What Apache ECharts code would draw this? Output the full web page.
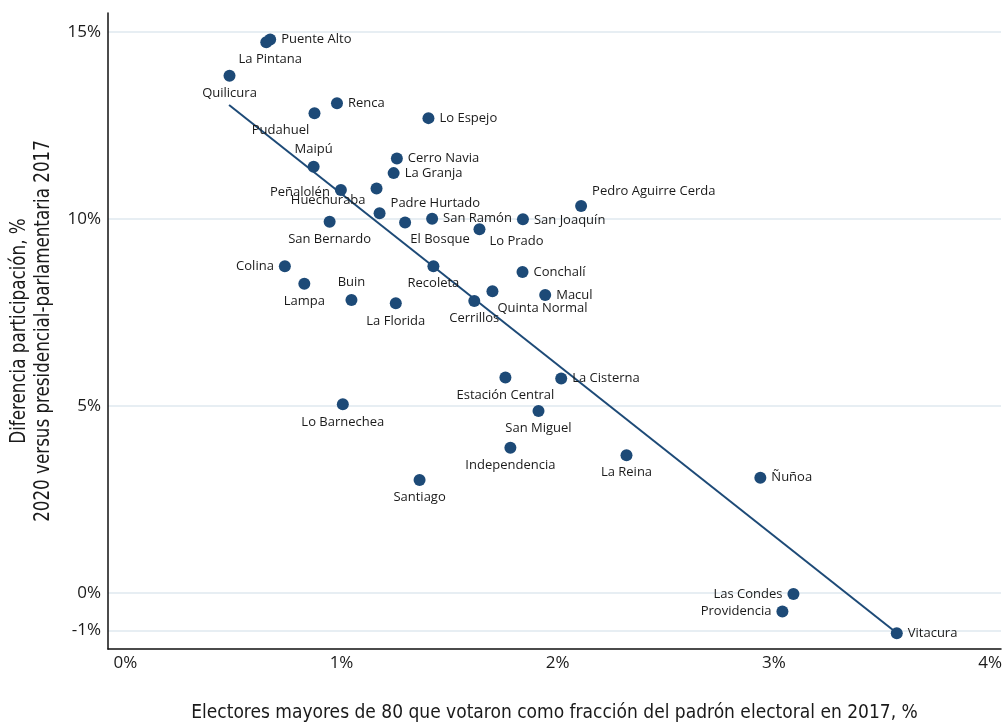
<!DOCTYPE html>
<html>
<head>
<meta charset="utf-8">
<script src="https://cdn.jsdelivr.net/npm/echarts@6/dist/echarts.min.js"></script>
<style>
  html, body { margin: 0; padding: 0; background: #ffffff; }
  #chart { width: 1006px; height: 722px; }
</style>
</head>
<body>
<div id="chart"></div>
<script>
// Comunas de la Región Metropolitana
const comunas = [
  'Puente Alto', 'La Pintana', 'Quilicura', 'Renca', 'Pudahuel', 'Lo Espejo',
  'Maipú', 'Cerro Navia', 'La Granja', 'Peñalolén', 'Huechuraba', 'Padre Hurtado',
  'San Bernardo', 'El Bosque', 'San Ramón', 'Lo Prado', 'San Joaquín', 'Pedro Aguirre Cerda',
  'Conchalí', 'Macul', 'Quinta Normal', 'Cerrillos', 'Recoleta', 'Colina',
  'Lampa', 'Buin', 'La Florida', 'Estación Central', 'La Cisterna', 'Lo Barnechea',
  'San Miguel', 'Independencia', 'Santiago', 'La Reina', 'Ñuñoa', 'Las Condes',
  'Providencia', 'Vitacura'
];

// Electores mayores de 80 que votaron, % del padrón 2017
const electores80 = [
  0.670, 0.652, 0.482, 0.979, 0.875, 1.402,
  0.871, 1.256, 1.241, 0.997, 1.162, 1.176,
  0.945, 1.294, 1.419, 1.638, 1.839, 2.108,
  1.837, 1.942, 1.698, 1.614, 1.425, 0.738,
  0.828, 1.046, 1.251, 1.758, 2.016, 1.006,
  1.911, 1.781, 1.361, 2.318, 2.937, 3.090,
  3.039, 3.568
];

// Diferencia de participación 2020 vs. 2017, puntos %
const difParticipacion = [
  14.79, 14.72, 13.82, 13.09, 12.82, 12.69,
  11.39, 11.61, 11.22, 10.77, 10.81, 10.15,
  9.92, 9.90, 10.00, 9.72, 9.99, 10.34,
  8.58, 7.96, 8.06, 7.80, 8.73, 8.73,
  8.26, 7.83, 7.74, 5.76, 5.73, 5.04,
  4.86, 3.88, 3.02, 3.68, 3.08, -0.03,
  -0.50, -1.08
];

// Recta de tendencia (extremos)
const tendenciaX = [0.48, 3.568];
const tendenciaY = [13.04, -1.07];

// Marcas de los ejes
const xTicks = [0, 1, 2, 3, 4];
const yTicks = [-1, 0, 5, 10, 15];

// Títulos de los ejes
const tituloX = 'Electores mayores de 80 que votaron como fracción del padrón electoral en 2017, %';
const tituloY = 'Diferencia participación, %\n2020 versus presidencial-parlamentaria 2017';

// Ubicación de cada etiqueta respecto a su punto: [posición, dx, dy]
const ubicacion = {
  'Puente Alto': ['right', 0, 0],
  'La Pintana': ['bottom', 4, 0],
  'Quilicura': ['bottom', 0, 0],
  'Renca': ['right', 0, 0],
  'Pudahuel': ['bottom', -34, 0],
  'Lo Espejo': ['right', 0, 0],
  'Maipú': ['top', 0, 0],
  'Cerro Navia': ['right', 0, 0],
  'La Granja': ['right', 0, 0],
  'Peñalolén': ['left', 0, 2],
  'Huechuraba': ['left', 0, 12],
  'Padre Hurtado': ['right', 0, -10],
  'San Bernardo': ['bottom', 0, 0],
  'El Bosque': ['bottom', 35, -1],
  'San Ramón': ['right', 0, 0],
  'Lo Prado': ['bottom', 37, -5],
  'San Joaquín': ['right', 0, 1],
  'Pedro Aguirre Cerda': ['right', 0, -15],
  'Conchalí': ['right', 0, 0],
  'Macul': ['right', 0, 0],
  'Quinta Normal': ['bottom', 50, -1],
  'Cerrillos': ['bottom', 0, 0],
  'Recoleta': ['bottom', 0, 0],
  'Colina': ['left', 0, 0],
  'Lampa': ['bottom', 0, 0],
  'Buin': ['top', 0, 0],
  'La Florida': ['bottom', 0, 0],
  'Estación Central': ['bottom', 0, 0],
  'La Cisterna': ['right', 0, 0],
  'Lo Barnechea': ['bottom', 0, 0],
  'San Miguel': ['bottom', 0, 0],
  'Independencia': ['bottom', 0, 0],
  'Santiago': ['bottom', 0, 0],
  'La Reina': ['bottom', 0, 0],
  'Ñuñoa': ['right', 0, 0],
  'Las Condes': ['left', 0, 0],
  'Providencia': ['left', 0, 0],
  'Vitacura': ['right', 0, 0]
};

const AZUL = '#1d4a77';
const TEXTO = '#1a1a1a';
const FUENTE_TITULO = '"Liberation Sans Narrow", "DejaVu Sans Condensed", sans-serif';

const puntos = comunas.map((nombre, i) => {
  const u = ubicacion[nombre] || ['right', 0, 0];
  return {
    name: nombre,
    value: [electores80[i], difParticipacion[i]],
    label: { position: u[0] }
  };
});

const tendencia = tendenciaX.map((x, i) => [x, tendenciaY[i]]);

const chart = echarts.init(document.getElementById('chart'), null, { renderer: 'canvas' });

chart.setOption({
  animation: false,
  backgroundColor: '#ffffff',
  grid: { left: 108, right: 5, top: 13, bottom: 73, containLabel: false, outerBoundsMode: 'none' },
  // título vertical, algo estrecho y alto
  graphic: [{
    type: 'text',
    x: 31.5,
    y: 331,
    rotation: Math.PI / 2,
    scaleY: 1.15,
    silent: true,
    style: {
      text: tituloY,
      fontFamily: FUENTE_TITULO,
      fontSize: 18.6,
      lineHeight: 21,
      fill: TEXTO,
      align: 'center',
      verticalAlign: 'middle'
    }
  }],
  xAxis: {
    type: 'value',
    min: -0.08,
    max: 4.05,
    name: tituloX,
    nameLocation: 'middle',
    nameGap: 55,
    nameTextStyle: {
      fontFamily: FUENTE_TITULO,
      fontSize: 19,
      color: TEXTO
    },
    axisLine: { show: true, onZero: false, lineStyle: { color: '#111111', width: 1.5 } },
    axisTick: { show: false },
    splitLine: { show: false },
    axisLabel: {
      customValues: xTicks,
      formatter: v => v + '%',
      fontFamily: '"Open Sans", sans-serif',
      fontSize: 17,
      color: TEXTO,
      margin: 6
    }
  },
  yAxis: {
    type: 'value',
    min: -1.5,
    max: 15.5,
    axisLine: { show: true, onZero: false, lineStyle: { color: '#111111', width: 1.5 } },
    axisTick: { show: false, customValues: yTicks },
    splitLine: { show: true, lineStyle: { color: '#e7eef3', width: 2 } },
    axisLabel: {
      customValues: yTicks,
      formatter: v => v + '%',
      fontFamily: '"Open Sans", sans-serif',
      fontSize: 17,
      color: TEXTO,
      margin: 7
    }
  },
  series: [
    {
      name: 'Tendencia',
      type: 'line',
      data: tendencia,
      symbol: 'none',
      lineStyle: { color: AZUL, width: 2 },
      z: 2,
      silent: true
    },
    {
      name: 'Comunas',
      type: 'scatter',
      data: puntos,
      symbol: 'circle',
      symbolSize: 12,
      itemStyle: { color: AZUL, opacity: 1 },
      z: 3,
      label: {
        show: true,
        formatter: '{b}',
        fontFamily: '"Open Sans", sans-serif',
        fontSize: 13,
        color: TEXTO,
        distance: 5
      },
      // desplazamiento fino de cada etiqueta
      labelLayout: function (params) {
        const u = ubicacion[comunas[params.dataIndex]] || ['right', 0, 0];
        return { dx: u[1], dy: u[2], hideOverlap: false };
      }
    }
  ]
});
</script>
</body>
</html>
